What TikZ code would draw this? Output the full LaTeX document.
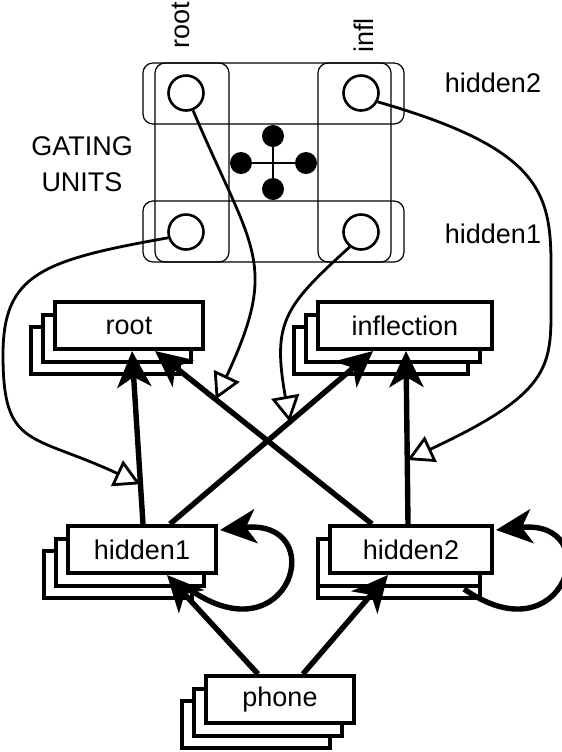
\documentclass[tikz,border=0pt]{standalone}
\usepackage{fontspec}
\setmainfont{Liberation Sans}
\usepackage{tikz}
\usetikzlibrary{arrows.meta, shadows, calc}

\begin{document}
\begin{tikzpicture}[x=0.5pt, y=-0.5pt,
	every node/.style={font=\fontsize{13.5}{18}\selectfont, inner sep=0pt},
	layer/.style={draw, fill=white, line width=2pt, minimum height=23.5pt},
	stack/.style={layer,
		general shadow={shadow scale=1, shadow xshift=-12pt, shadow yshift=-12.5pt, draw=black, fill=white},
		general shadow={shadow scale=1, shadow xshift=-6pt, shadow yshift=-6.25pt, draw=black, fill=white}},
	stackup/.style={layer,
		general shadow={shadow scale=1, shadow xshift=-6pt, shadow yshift=-12.5pt, draw=black, fill=white},
		general shadow={shadow scale=1, shadow xshift=-6pt, shadow yshift=-6.25pt, draw=black, fill=white}},
	gbox/.style={line width=0.6pt, rounded corners=5pt},
	gate/.style={draw, circle, fill=white, line width=1.3pt, minimum size=17.5pt},
	dot/.style={fill, circle, minimum size=11pt},
	conn/.style={line width=2.7pt, -{Stealth[length=18pt, width=17pt, inset=5pt]}},
	gating/.style={line width=1.4pt, -{Triangle[open, length=13pt, width=14pt]}}]
	\useasboundingbox (0,0) rectangle (562,752);

	%% gating units
	\draw[gbox] (143,63) rectangle (404,124);
	\draw[gbox] (143,201) rectangle (404,262);
	\draw[gbox] (155,63) rectangle (229,262);
	\draw[gbox] (318,63) rectangle (391,262);
	\node[gate] (rg2) at (186,93) {};
	\node[gate] (ig2) at (361,93) {};
	\node[gate] (rg1) at (186,232) {};
	\node[gate] (ig1) at (361,232) {};
	\node[dot] (dl) at (241,163) {};
	\node[dot] (dr) at (306,163) {};
	\node[dot] (dt) at (273,136) {};
	\node[dot] (db) at (273,189) {};
	\draw[line width=1.4pt] (dl) -- (dr) (dt) -- (db);

	\node[rotate=90, anchor=base west] (lroot) at (190,49) {root};
	\node[rotate=90, anchor=base west] (linfl) at (373,53) {infl};
	\node[anchor=base] (lh2) at (493,92) {hidden2};
	\node[anchor=base] (lh1) at (493,243) {hidden1};
	\node[align=center] (lgate) at (82,164) {GATING\\UNITS};

	%% units
	\node[stack, minimum width=74pt] (root) at (129,325.5) {root};
	\node[stack, minimum width=87pt] (infl) at (405,325.5) {inflection};
	\node[stack, minimum width=74pt] (h1) at (142,549.5) {hidden1};
	\node[stackup, minimum width=81pt] (h2) at (411,549.5) {hidden2};
	\node[stack, minimum width=74pt] (phone) at (280,699.5) {phone};

	%% connections
	\draw[conn] ([xshift=-11pt]phone.north) -- ([xshift=12.5pt]h1.south);
	\draw[conn] ([xshift=11.5pt]phone.north) -- ([xshift=-11.5pt]h2.south);
	\draw[conn] ([xshift=0.5pt]h1.north) -- coordinate[pos=0.23] (g11) ([xshift=1.5pt]root.south);
	\draw[conn] ([xshift=14pt]h1.north) -- coordinate[pos=0.59] (g12) ([xshift=-16pt]infl.south);
	\draw[conn] ([xshift=-19.5pt]h2.north) -- coordinate[pos=0.72] (g21) ([xshift=13pt]root.south);
	\draw[conn] ([xshift=-1.5pt]h2.north) -- coordinate[pos=0.37] (g22) ([xshift=0.5pt]infl.south);
	\draw[conn] ([xshift=-14.5pt, yshift=-7pt]h1.south east) .. controls +(-35:62pt) and +(6:56pt) .. ([xshift=1pt, yshift=-3pt]h1.north east);
	\draw[conn] ([xshift=-15pt, yshift=-7pt]h2.south east) .. controls +(-35:62pt) and +(6:56pt) .. ([xshift=1pt, yshift=-3pt]h2.north east);

	%% gates
	\draw[gating] (rg1.198) .. controls +(190:65pt) and +(90:40pt) .. (3,355) .. controls +(-90:47pt) and +(155:60.5pt) .. (g11);
	\draw[gating] (rg2.292) .. controls +(-67:76pt) and +(65:76pt) .. (g21);
	\draw[gating] (ig1.233) .. controls +(222:45pt) and +(100:50pt) .. (g12);
	\draw[gating] (ig2.332) .. controls +(-16:95pt) and +(90:45pt) .. (551,293) .. controls +(-90:35.5pt) and +(25:83pt) .. (g22);
\end{tikzpicture}
\end{document}
